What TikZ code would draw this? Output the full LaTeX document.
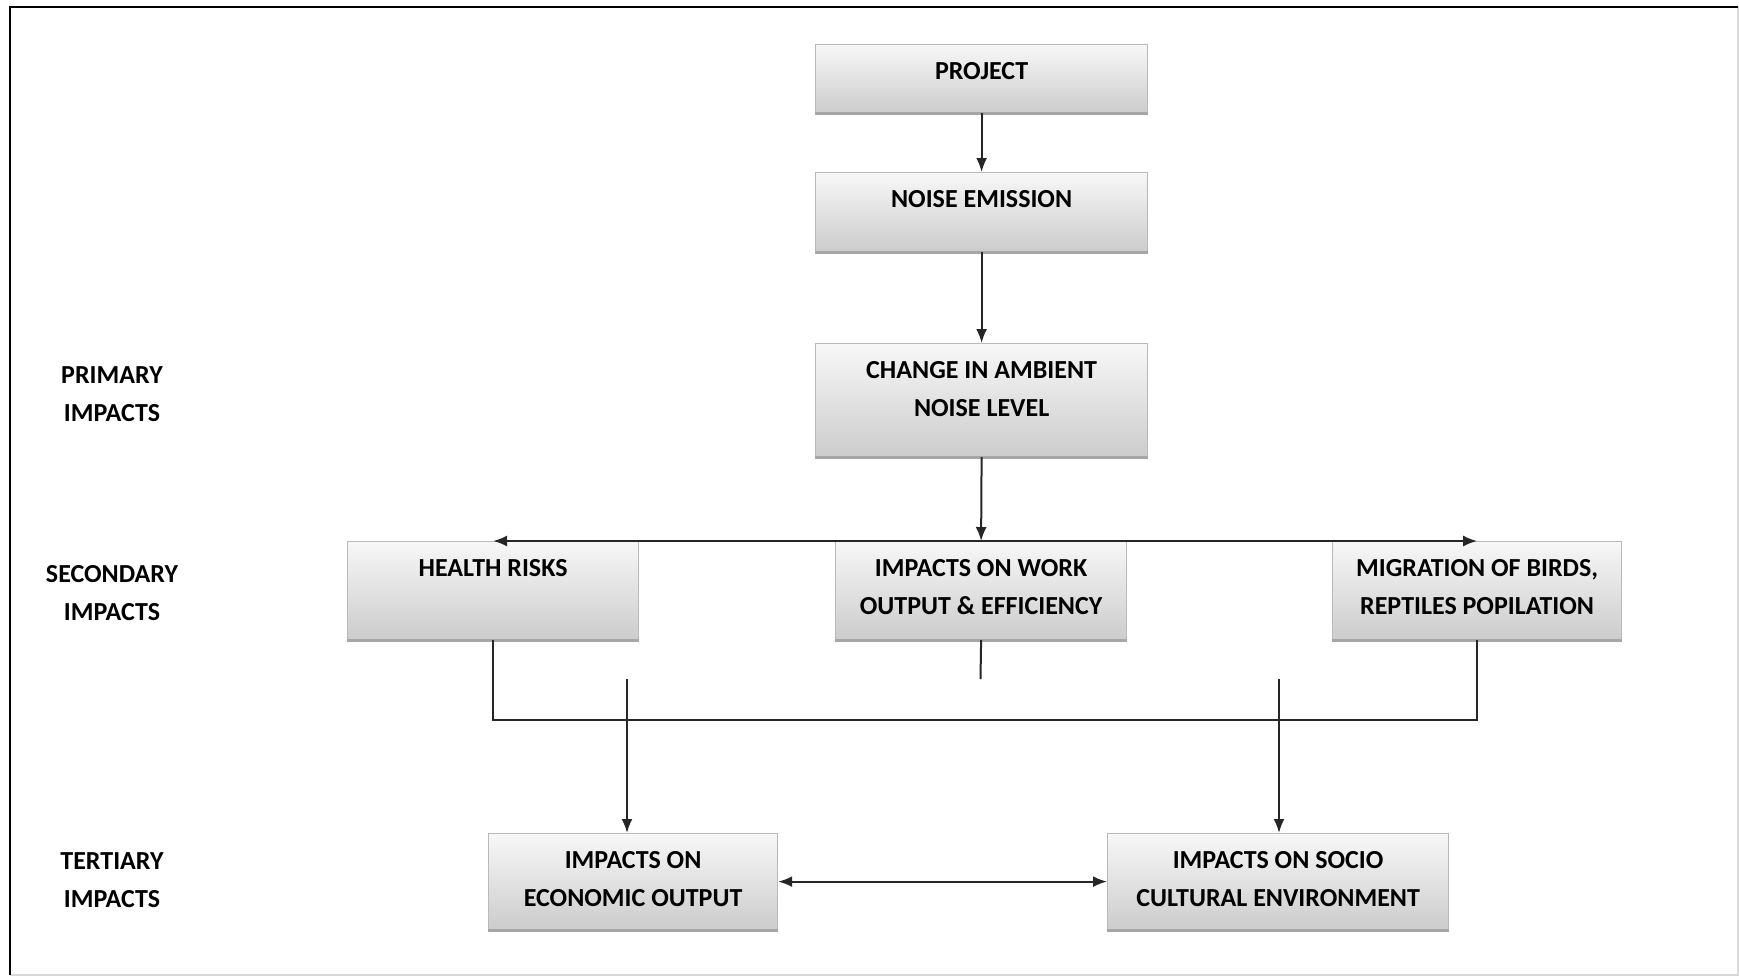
\documentclass[tikz,border=0pt]{standalone}
\usepackage{fontspec}
\setmainfont{Carlito}
\usetikzlibrary{arrows.meta,calc}

% text block of a flow box: fixed size, text set from the top
\newlength{\unitpx}\setlength{\unitpx}{0.5pt}
\newcommand{\flowtext}[3]{%
  \parbox[c][#2\unitpx][t]{#1\unitpx}{\centering\rule{0pt}{17.4pt}#3}}

\tikzset{
  flowbox/.style={inner sep=0pt, draw=gray!55, line width=0.6pt,
    top color=gray!6, bottom color=gray!40, anchor=north west,
    font=\fontsize{13pt}{18.9pt}\selectfont\bfseries,
    append after command={
      (\tikzlastnode.south west) edge[draw=gray!70, line width=1.4pt]
      (\tikzlastnode.south east)}},
  levellabel/.style={align=center, inner sep=0pt,
    font=\fontsize{13pt}{18.9pt}\selectfont\bfseries},
  link/.style={line width=1pt, draw=black!85},
  arrowlink/.style={link, -{Latex[length=7pt,width=5.5pt]}},
  twowaylink/.style={link, {Latex[length=7pt,width=5.5pt]}-{Latex[length=7pt,width=5.5pt]}}
}

\begin{document}
\begin{tikzpicture}[x=0.5pt,y=-0.5pt]
  \useasboundingbox (0,0) rectangle (1739,976);
  % outer frame
  \draw[gray!30, line width=1pt] (1738,7) -- (1738,975) -- (10,975);
  \draw[black, line width=1.2pt] (10,975) -- (10,7) -- (1738,7);

  % main chain
  \node[flowbox] (p)  at (815,44)  {\flowtext{332}{68}{PROJECT}};
  \node[flowbox] (n)  at (815,172) {\flowtext{332}{79}{NOISE EMISSION}};
  \node[flowbox] (c)  at (815,343) {\flowtext{332}{113}{CHANGE IN AMBIENT\\NOISE LEVEL}};

  % secondary impacts
  \node[flowbox] (hr) at (347,541)  {\flowtext{291}{98}{HEALTH RISKS}};
  \node[flowbox] (wk) at (835,541)  {\flowtext{291}{98}{IMPACTS ON WORK\\OUTPUT \& EFFICIENCY}};
  \node[flowbox] (mg) at (1332,541) {\flowtext{289}{98}{MIGRATION OF BIRDS,\\REPTILES POPILATION}};

  % tertiary impacts
  \node[flowbox] (ec) at (488,833)  {\flowtext{289}{96}{IMPACTS ON\\ECONOMIC OUTPUT}};
  \node[flowbox] (sc) at (1107,833) {\flowtext{341}{96}{IMPACTS ON SOCIO\\CULTURAL ENVIRONMENT}};

  % level labels
  \node[levellabel] (l1) at (112,394) {PRIMARY\\IMPACTS};
  \node[levellabel] (l2) at (112,593) {SECONDARY\\IMPACTS};
  \node[levellabel] (l3) at (112,880) {TERTIARY\\IMPACTS};

  % connector ends
  \coordinate (wkend) at (980.5,679);
  \coordinate (ecstart) at (627,679);
  \coordinate (scstart) at (1279,679);
  \coordinate (busy) at (0,720);

  % connectors
  \draw[arrowlink] (p.south) -- (n.north);
  \draw[arrowlink] (n.south) -- (c.north);
  \draw[arrowlink] (c.south) -- (wk.north);
  \draw[arrowlink] (wk.north) -- (hr.north);
  \draw[arrowlink] (wk.north) -- (mg.north);
  \draw[link] (hr.south) -- (hr.south |- busy) -- (mg.south |- busy) -- (mg.south);
  \draw[link] (wk.south) -- (wkend);
  \draw[arrowlink] (ecstart) -- (ecstart |- ec.north);
  \draw[arrowlink] (scstart) -- (scstart |- sc.north);
  \draw[twowaylink] (ec.east) -- (sc.west);
\end{tikzpicture}
\end{document}
